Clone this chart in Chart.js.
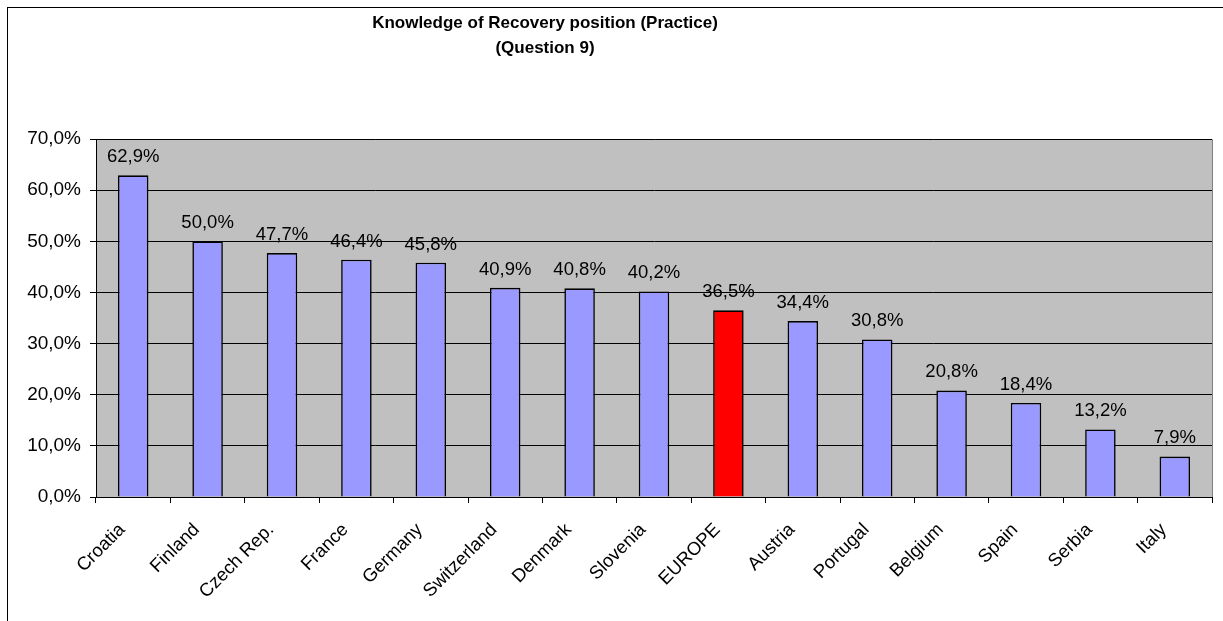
<!DOCTYPE html>
<html>
<head>
<meta charset="utf-8">
<script src="https://cdn.jsdelivr.net/npm/chart.js@4/dist/chart.umd.min.js"></script>
<style>
  body { margin: 0; background: #fff; }
  #wrap { width: 1223px; height: 621px; position: relative; }
</style>
</head>
<body>
<div id="wrap"><canvas id="chart"></canvas></div>
<script>
const countries = ['Croatia', 'Finland', 'Czech Rep.', 'France', 'Germany', 'Switzerland', 'Denmark', 'Slovenia', 'EUROPE', 'Austria', 'Portugal', 'Belgium', 'Spain', 'Serbia', 'Italy'];
const shares = [62.9, 50.0, 47.7, 46.4, 45.8, 40.9, 40.8, 40.2, 36.5, 34.4, 30.8, 20.8, 18.4, 13.2, 7.9];
const titleLines = ['Knowledge of Recovery position (Practice)', '(Question 9)'];

const FONT = '"Liberation Sans", Arial, sans-serif';
const fmt = v => v.toFixed(1).replace('.', ',') + '%';

const frameAndBg = {
    id: 'frameAndBg',
    beforeDraw(chart) {
        const {ctx, chartArea: a} = chart;
        ctx.save();
        ctx.fillStyle = '#c0c0c0';
        ctx.fillRect(a.left, a.top, a.right - a.left, a.bottom - a.top);
        ctx.strokeStyle = '#808080';
        ctx.lineWidth = 1;
        ctx.beginPath();
        ctx.moveTo(a.left, a.top + 0.5);
        ctx.lineTo(a.right + 0.5, a.top + 0.5);
        ctx.lineTo(a.right + 0.5, a.bottom);
        ctx.stroke();
        ctx.strokeStyle = '#000';
        ctx.strokeRect(7.5, 7.5, 1240, 640);
        ctx.fillStyle = '#000';
        ctx.font = 'bold 17px ' + FONT;
        ctx.textAlign = 'center';
        ctx.textBaseline = 'middle';
        titleLines.forEach((t, i) => ctx.fillText(t, 545, 23 + i * 25));
        ctx.restore();
    }
};

const valueLabels = {
    id: 'valueLabels',
    afterDatasetsDraw(chart) {
        const ctx = chart.ctx;
        const meta = chart.getDatasetMeta(0);
        ctx.save();
        ctx.fillStyle = '#000';
        ctx.font = '18.5px ' + FONT;
        ctx.textAlign = 'center';
        ctx.textBaseline = 'bottom';
        meta.data.forEach((bar, i) => ctx.fillText(fmt(shares[i]), bar.x, bar.y - 9));
        ctx.restore();
    }
};

new Chart(document.getElementById('chart'), {
    type: 'bar',
    data: {
        labels: countries,
        datasets: [{
            data: shares,
            backgroundColor: countries.map(c => c === 'EUROPE' ? '#ff0000' : '#9999ff'),
            borderColor: '#000',
            borderWidth: 1.6,
            borderSkipped: 'bottom',
            categoryPercentage: 1,
            barPercentage: 0.41
        }]
    },
    options: {
        responsive: true,
        maintainAspectRatio: false,
        animation: false,
        layout: { padding: { left: 0, top: 139, right: 11, bottom: 0 } },
        plugins: { legend: { display: false }, tooltip: { enabled: false } },
        scales: {
            x: {
                afterFit: s => { s.height = 124; },
                grid: { offset: true, drawOnChartArea: false, color: '#000', tickLength: 6 },
                border: { color: '#000', width: 1 },
                ticks: { color: '#000', font: { family: FONT, size: 18.5 }, minRotation: 45, maxRotation: 45, autoSkip: false, padding: 16, labelOffset: -11 }
            },
            y: {
                min: 0, max: 70,
                afterFit: s => { s.width = 96; },
                grid: { color: '#000', tickLength: 6 },
                border: { color: '#000', width: 1 },
                ticks: { stepSize: 10, color: '#000', font: { family: FONT, size: 19 }, padding: 9, callback: v => fmt(v) }
            }
        }
    },
    plugins: [frameAndBg, valueLabels]
});
</script>
</body>
</html>
